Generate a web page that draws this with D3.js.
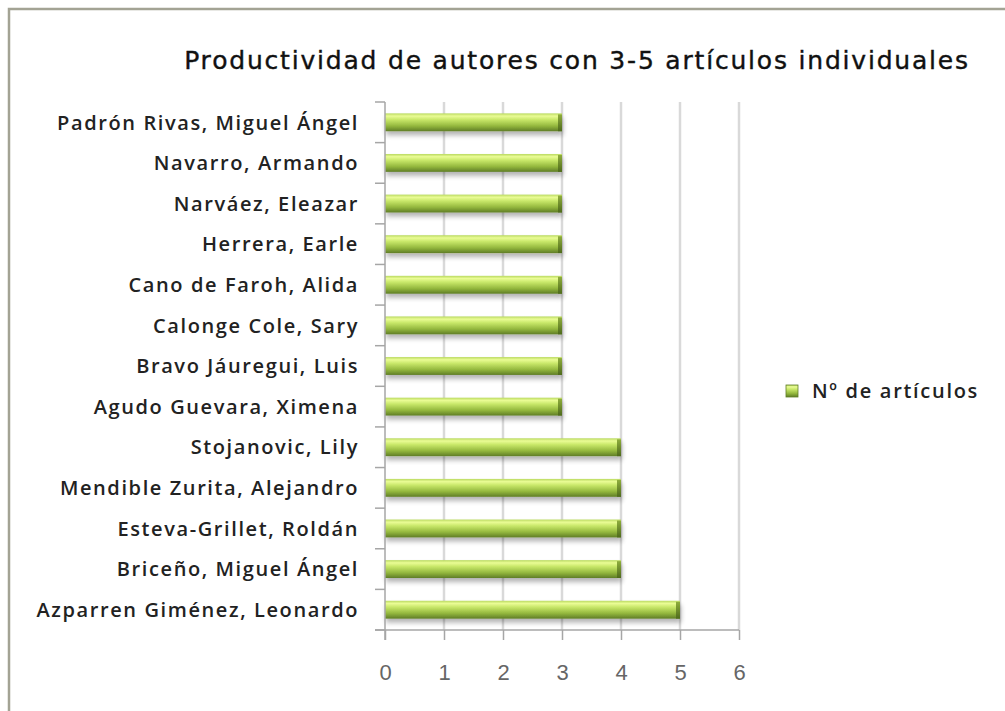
<!DOCTYPE html>
<html lang="es">
<head>
<meta charset="utf-8">
<title>Productividad de autores</title>
<script src="https://d3js.org/d3.v7.min.js"></script>
<style>
  body { margin: 0; background: #fff; }
  svg { display: block; }
</style>
</head>
<body>
<div id="chart"></div>
<script>
// data, top to bottom as drawn
var autores = [
  "Padrón Rivas, Miguel Ángel",
  "Navarro, Armando",
  "Narváez, Eleazar",
  "Herrera, Earle",
  "Cano de Faroh, Alida",
  "Calonge Cole, Sary",
  "Bravo Jáuregui, Luis",
  "Agudo Guevara, Ximena",
  "Stojanovic, Lily",
  "Mendible Zurita, Alejandro",
  "Esteva-Grillet, Roldán",
  "Briceño, Miguel Ángel",
  "Azparren Giménez, Leonardo"
];
var articulos = [3, 3, 3, 3, 3, 3, 3, 3, 4, 4, 4, 4, 5];
var xTicks = [0, 1, 2, 3, 4, 5, 6];
var titulo = "Productividad de autores con 3-5 artículos individuales";
var serie = "Nº de artículos";

var W = 1005, H = 711;
var plot = {left: 385, right: 739, top: 102, bottom: 630};

var svg = d3.select("#chart").append("svg")
    .attr("width", W)
    .attr("height", H);

var defs = svg.append("defs");
var grad = defs.append("linearGradient")
    .attr("id", "barGrad")
    .attr("x1", 0).attr("y1", 0).attr("x2", 0).attr("y2", 1);
grad.append("stop").attr("offset", "0%").attr("stop-color", "#b9d960");
grad.append("stop").attr("offset", "15%").attr("stop-color", "#eafc95");
grad.append("stop").attr("offset", "35%").attr("stop-color", "#c9e86a");
grad.append("stop").attr("offset", "70%").attr("stop-color", "#94b83e");
grad.append("stop").attr("offset", "100%").attr("stop-color", "#5f7d26");

var capGrad = defs.append("linearGradient")
    .attr("id", "capGrad")
    .attr("x1", 0).attr("y1", 0).attr("x2", 0).attr("y2", 1);
capGrad.append("stop").attr("offset", "0%").attr("stop-color", "#8fae3c");
capGrad.append("stop").attr("offset", "100%").attr("stop-color", "#4e6a1c");

var shadow = defs.append("filter").attr("id", "shadow")
    .attr("x", "-5%").attr("y", "-40%").attr("width", "110%").attr("height", "220%");
shadow.append("feGaussianBlur").attr("in", "SourceAlpha").attr("stdDeviation", 2.5);
shadow.append("feOffset").attr("dx", 1).attr("dy", 4).attr("result", "ob");
shadow.append("feComponentTransfer").append("feFuncA").attr("type", "linear").attr("slope", 0.3);
var merge = shadow.append("feMerge");
merge.append("feMergeNode");
merge.append("feMergeNode").attr("in", "SourceGraphic");

// outer frame
svg.append("rect")
    .attr("x", 9).attr("y", 9)
    .attr("width", W + 20).attr("height", H + 20)
    .attr("fill", "#fff")
    .attr("stroke", "#a3a394")
    .attr("stroke-width", 2.5);

var x = d3.scaleLinear().domain([0, 6]).range([plot.left, plot.right]);
var y = d3.scaleBand().domain(autores).range([plot.top, plot.bottom]).paddingInner(0.56).paddingOuter(0.28);

// gridlines
svg.append("g").selectAll("line")
    .data(xTicks.slice(1))
    .join("line")
    .attr("x1", d => x(d)).attr("x2", d => x(d))
    .attr("y1", plot.top).attr("y2", plot.bottom)
    .attr("stroke", "#d9d9d9")
    .attr("stroke-width", 2.5);

// bars
var bars = svg.append("g").selectAll("g")
    .data(autores)
    .join("g")
    .attr("filter", "url(#shadow)");

bars.append("rect")
    .attr("x", x(0))
    .attr("y", d => y(d))
    .attr("width", (d, i) => x(articulos[i]) - x(0))
    .attr("height", y.bandwidth())
    .attr("fill", "url(#barGrad)");

bars.append("rect")
    .attr("x", (d, i) => x(articulos[i]) - 4)
    .attr("y", d => y(d) + 1)
    .attr("width", 4)
    .attr("height", y.bandwidth() - 1)
    .attr("fill", "url(#capGrad)");

// x axis
var xAxis = svg.append("g")
    .attr("transform", "translate(0," + plot.bottom + ")")
    .call(d3.axisBottom(x).tickValues(xTicks).tickFormat(d3.format("d"))
        .tickSize(10).tickPadding(24).tickSizeOuter(0));
xAxis.select(".domain").attr("stroke", "#a6a6a6").attr("stroke-width", 1.5)
    .attr("d", "M" + (plot.left - 10) + ",0H" + plot.right);
xAxis.selectAll(".tick line").attr("stroke", "#a6a6a6").attr("stroke-width", 1.5);
xAxis.selectAll(".tick text")
    .attr("fill", "#666")
    .style("font-family", "'Liberation Sans', sans-serif")
    .style("font-size", "22px");

// y axis line and category ticks
var yAxis = svg.append("g");
yAxis.append("line")
    .attr("x1", plot.left).attr("x2", plot.left)
    .attr("y1", plot.top).attr("y2", plot.bottom + 10)
    .attr("stroke", "#a6a6a6").attr("stroke-width", 1.5);
yAxis.selectAll("line.tk")
    .data(d3.range(autores.length + 1))
    .join("line")
    .attr("class", "tk")
    .attr("x1", plot.left - 10).attr("x2", plot.left)
    .attr("y1", i => plot.top + i * (plot.bottom - plot.top) / autores.length)
    .attr("y2", i => plot.top + i * (plot.bottom - plot.top) / autores.length)
    .attr("stroke", "#a6a6a6").attr("stroke-width", 1.5);

svg.append("g").selectAll("text")
    .data(autores)
    .join("text")
    .attr("x", 359)
    .attr("y", d => y(d) + y.bandwidth() / 2)
    .attr("dy", "0.36em")
    .attr("text-anchor", "end")
    .attr("fill", "#222")
    .style("font-family", "'Open Sans', sans-serif")
    .style("font-weight", 600)
    .style("font-size", "20px")
    .style("letter-spacing", "1.6px")
    .text(d => d);

// title
svg.append("text")
    .attr("x", 577).attr("y", 69)
    .attr("text-anchor", "middle")
    .attr("fill", "#111")
    .style("font-family", "'DejaVu Sans', sans-serif")
    .style("font-size", "25px")
    .style("font-weight", 500)
    .style("letter-spacing", "1.8px")
    .style("stroke", "#111")
    .style("stroke-width", "0.4px")
    .text(titulo);

// legend
svg.append("rect")
    .attr("x", 786).attr("y", 385)
    .attr("width", 12).attr("height", 12)
    .attr("fill", "url(#barGrad)")
    .attr("stroke", "#5f7d26").attr("stroke-width", 0.8);
svg.append("text")
    .attr("x", 812).attr("y", 391)
    .attr("dy", "0.36em")
    .attr("fill", "#222")
    .style("font-family", "'Open Sans', sans-serif")
    .style("font-weight", 600)
    .style("font-size", "20px")
    .style("letter-spacing", "1.7px")
    .text(serie);
</script>
</body>
</html>
